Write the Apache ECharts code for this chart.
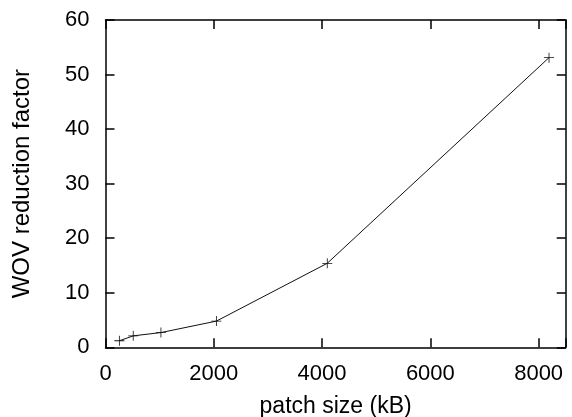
<!DOCTYPE html>
<html>
<head>
<meta charset="utf-8">
<script src="https://cdn.jsdelivr.net/npm/echarts@6/dist/echarts.min.js"></script>
<style>
  html, body { margin: 0; padding: 0; background: #fff; }
  #main { width: 572px; height: 417px; }
</style>
</head>
<body>
<div id="main"></div>
<script>
// patch size (kB) vs WOV reduction factor
var patchSizes = [256, 512, 1024, 2048, 4096, 8192];
var reduction = [1.2, 2.1, 2.7, 4.8, 15.4, 53.1];
var xTicks = [0, 2000, 4000, 6000, 8000];
var yTicks = [0, 10, 20, 30, 40, 50, 60];

var plus = 'path://M4.6,0h0.8v4.6h4.6v0.8h-4.6v4.6h-0.8v-4.6h-4.6v-0.8h4.6z';
var font = 'Liberation Sans';

var chart = echarts.init(document.getElementById('main'));

function axLine() {
  return { show: true, onZero: false, lineStyle: { color: '#000', width: 1.5 } };
}
function axTick() {
  return { show: true, inside: true, length: 9, lineStyle: { color: '#000', width: 1.5 } };
}

chart.setOption({
  animation: false,
  backgroundColor: '#fff',
  grid: { left: 105.5, right: 6.3, top: 20, bottom: 69.7, containLabel: false, outerBoundsMode: 'none' },
  xAxis: [{
    type: 'value',
    min: 0, max: 8500, interval: 2000,
    name: 'patch size (kB)',
    nameLocation: 'middle',
    nameGap: 48,
    nameTextStyle: { fontFamily: font, fontSize: 23, color: '#000' },
    axisLine: axLine(),
    axisTick: axTick(),
    splitLine: { show: false },
    axisLabel: {
      fontFamily: font, fontSize: 22, color: '#000', margin: 16,
      formatter: function (v) { return xTicks.indexOf(v) >= 0 ? String(v) : ''; }
    }
  }, {
    type: 'value', position: 'top',
    min: 0, max: 8500, interval: 2000,
    axisLine: axLine(),
    axisTick: axTick(),
    axisLabel: { show: false },
    splitLine: { show: false }
  }],
  yAxis: [{
    type: 'value',
    min: 0, max: 60, interval: 10,
    name: 'WOV reduction factor',
    nameLocation: 'middle',
    nameGap: 71,
    nameTextStyle: { fontFamily: font, fontSize: 24, color: '#000' },
    axisLine: axLine(),
    axisTick: axTick(),
    splitLine: { show: false },
    axisLabel: {
      fontFamily: font, fontSize: 22, color: '#000', margin: 16,
      formatter: function (v) { return yTicks.indexOf(v) >= 0 ? String(v) : ''; }
    }
  }, {
    type: 'value', position: 'right',
    min: 0, max: 60, interval: 10,
    axisLine: axLine(),
    axisTick: axTick(),
    axisLabel: { show: false },
    splitLine: { show: false }
  }],
  series: [{
    type: 'line',
    xAxisIndex: 0,
    yAxisIndex: 0,
    data: patchSizes.map(function (x, i) { return [x, reduction[i]]; }),
    symbol: plus,
    symbolSize: 10,
    itemStyle: { color: '#111' },
    lineStyle: { color: '#111', width: 1 }
  }]
});
</script>
</body>
</html>
